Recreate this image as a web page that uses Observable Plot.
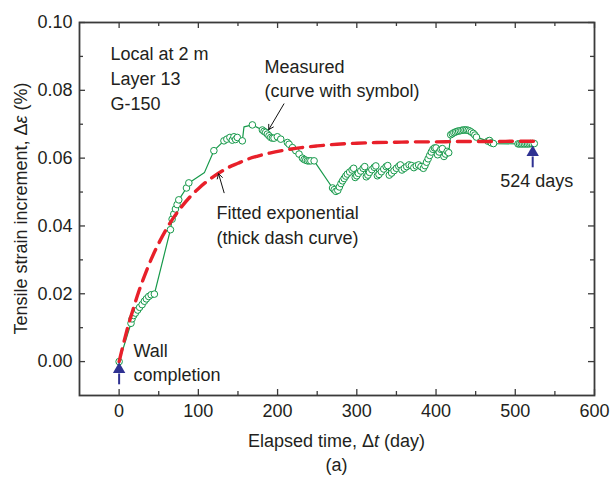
<!DOCTYPE html>
<html>
<head>
<meta charset="utf-8">
<script src="https://cdn.jsdelivr.net/npm/d3@7"></script>
<script src="https://cdn.jsdelivr.net/npm/@observablehq/plot@0.6"></script>
<style>
  html, body { margin: 0; padding: 0; background: #fff; }
</style>
</head>
<body>
<div id="chart"></div>
<script>
// ---- Data ----
// Measured strain increment (curve with symbol): elapsed day, strain (%)
const measT = [0, 15, 16.3, 18.3, 20.5, 23.4, 25.9, 29, 31.9, 34.4, 37.3, 40.4, 44.5,
  64.8, 66.9, 69, 71.1, 73.2, 75.3, 85, 88,
  119.6, 132.3, 136, 139.8, 142.8, 144.9, 147, 149.2, 155.5,
  168.2, 180.8, 182.9, 185, 187.1, 189.2, 191.3, 193.4, 195.5, 199.7, 204,
  212.4, 214.5, 218.8, 223, 227.1, 231.4, 233.5, 235.6, 237.7, 239.8, 242, 246.1,
  269.4, 271.5, 273.6,
  276, 278, 280, 282, 284, 286, 288, 291, 294, 296,
  298, 300, 302, 305, 308, 310,
  312, 314, 316, 319, 322, 324,
  326, 328, 331, 334, 337, 339,
  341, 344, 347, 350, 353, 355,
  357, 360, 363, 366, 369, 372, 375, 378, 381, 384,
  386, 388, 390, 392, 394, 396, 398, 400,
  402, 404, 406, 408, 410, 412, 414, 416,
  418.5, 420.5, 422.5, 424.5, 426.5, 428.5, 430.5, 432.5, 434.5, 436.5, 438.5, 440.5, 442.5, 444.5, 447, 449, 451,
  465.5, 467.5, 469.7, 472.5,
  503.5, 505.5, 507.5, 509.5, 511.5, 513.5, 515.5, 517.5, 519.5, 521.5, 524];
const measV = [0, 0.0113, 0.0126, 0.0136, 0.0143, 0.0152, 0.0160, 0.0168, 0.0178, 0.0185, 0.0192, 0.0197, 0.0199,
  0.0389, 0.0420, 0.0435, 0.0450, 0.0463, 0.0477, 0.0512, 0.0527,
  0.0622, 0.0651, 0.0656, 0.0661, 0.0653, 0.0663, 0.0655, 0.0661, 0.0651,
  0.0698, 0.0683, 0.0679, 0.0676, 0.0671, 0.0666, 0.0661, 0.0659, 0.0659, 0.0663, 0.0656,
  0.0646, 0.0641, 0.0631, 0.0622, 0.0612, 0.0600, 0.0596, 0.0594, 0.0592, 0.0592, 0.0592, 0.0592,
  0.0512, 0.0507, 0.0502,
  0.0505, 0.0515, 0.0525, 0.0533, 0.0540, 0.0547, 0.0553, 0.0559, 0.0565, 0.0570,
  0.0543, 0.0548, 0.0555, 0.0562, 0.0570, 0.0575,
  0.0545, 0.0550, 0.0558, 0.0566, 0.0573, 0.0577,
  0.0548, 0.0552, 0.0560, 0.0568, 0.0575, 0.0578,
  0.0550, 0.0556, 0.0563, 0.0570, 0.0576, 0.0580,
  0.0565, 0.0570, 0.0575, 0.0580, 0.0578, 0.0572, 0.0577, 0.0580, 0.0575, 0.0570,
  0.0578, 0.0588, 0.0598, 0.0608, 0.0618, 0.0626, 0.0630, 0.0630,
  0.0610, 0.0618, 0.0626, 0.0628, 0.0605, 0.0612, 0.0620, 0.0616,
  0.0669, 0.0672, 0.0675, 0.0677, 0.0679, 0.0680, 0.0681, 0.0682, 0.0683, 0.0683, 0.0683, 0.0682, 0.0680, 0.0677, 0.0673, 0.0668, 0.0662,
  0.0650, 0.0652, 0.0645, 0.0643,
  0.0642, 0.0642, 0.0642, 0.0642, 0.0642, 0.0642, 0.0642, 0.0642, 0.0643, 0.0643, 0.0643];
// Line vertices of the measured curve that carry no symbol
const kinkT = [107.8, 157.6];
const kinkV = [0.0558, 0.0692];

// Fitted exponential (thick dash curve)
const fitT = [0, 5, 10, 15, 20, 25, 30, 40, 50, 60, 70, 80, 90, 100, 110, 120, 130, 140, 150, 160,
  175, 190, 210, 230, 250, 275, 300, 325, 350, 375, 400, 425, 450, 475, 500, 524];
const fitV = [0, 0.0048, 0.0093, 0.0134, 0.0172, 0.0208, 0.0240, 0.0299, 0.0349, 0.0392, 0.0429, 0.0460,
  0.0487, 0.0510, 0.0530, 0.0547, 0.0562, 0.0575, 0.0585, 0.0595, 0.0606, 0.0615, 0.0624, 0.0631,
  0.0636, 0.0641, 0.0644, 0.0646, 0.0647, 0.0648, 0.0648, 0.0649, 0.0649, 0.0649, 0.0650, 0.0650];

// Axis ticks
const xTicks = [0, 100, 200, 300, 400, 500, 600];
const xMinor = [50, 150, 250, 350, 450, 550];
const yTicks = [0, 0.02, 0.04, 0.06, 0.08, 0.10];
const yMinor = [0.01, 0.03, 0.05, 0.07, 0.09];

// Text annotations
const noteText = ["Local at 2 m", "Layer 13", "G-150", "Measured", "(curve with symbol)",
  "Fitted exponential", "(thick dash curve)", "524 days", "Wall", "completion"];
const noteX = [-11, -11, -11, 183.5, 183.5, 123, 123, 481, 18, 18];
const noteY = [0.0907, 0.0833, 0.0759, 0.0867, 0.0796, 0.0437, 0.0364, 0.0533, 0.0031, -0.0041];

// Black pointer arrows (to measured / fitted curves)
const ptrX1 = [208, 132.5], ptrY1 = [0.0760, 0.0498];
const ptrX2 = [188.8, 125.5], ptrY2 = [0.0684, 0.0554];

// Blue event arrows (wall completion, 524 days)
const evX = [0, 522];
const evY1 = [-0.0067, 0.0573];
const evY2 = [-0.0008, 0.0632];

// ---- Build tables ----
const measured = measT.map((t, i) => ({t, v: measV[i]}));
const lineData = measured.concat(kinkT.map((t, i) => ({t, v: kinkV[i]}))).sort((a, b) => a.t - b.t);
const fitted = fitT.map((t, i) => ({t, v: fitV[i]}));
const notes = noteText.map((s, i) => ({s, x: noteX[i], y: noteY[i]}));
const ptrs = ptrX1.map((x1, i) => ({x1, y1: ptrY1[i], x2: ptrX2[i], y2: ptrY2[i]}));
const evs = evX.map((x, i) => ({x, y1: evY1[i], y2: evY2[i]}));

const green = "#16994a", red = "#e8202a", blue = "#2e3192", ink = "#231f20", frameC = "#3b3b3b";
const W = 610, H = 477, mL = 79, mR = 16, mT = 22, mB = 82;
const iW = W - mL - mR, iH = H - mT - mB;
const headLen = 0.0027; // arrowhead height in data units

const svg = Plot.plot({
  width: W, height: H,
  marginLeft: mL, marginRight: mR, marginTop: mT, marginBottom: mB,
  x: {domain: [-50, 600]},
  y: {domain: [-0.01, 0.10]},
  style: {fontFamily: "'Liberation Sans', Arial, sans-serif", fontSize: "18px", color: ink, background: "white"},
  marks: [
    // ticks pointing inward on all four sides
    Plot.tickX(xTicks, {x: d => d, insetTop: iH - 6, stroke: frameC, strokeWidth: 1.3}),
    Plot.tickX(xTicks, {x: d => d, insetBottom: iH - 6, stroke: frameC, strokeWidth: 1.3}),
    Plot.tickX(xMinor, {x: d => d, insetTop: iH - 4, stroke: frameC, strokeWidth: 1.3}),
    Plot.tickX(xMinor, {x: d => d, insetBottom: iH - 4, stroke: frameC, strokeWidth: 1.3}),
    Plot.tickY(yTicks, {y: d => d, insetRight: iW - 6, stroke: frameC, strokeWidth: 1.3}),
    Plot.tickY(yTicks, {y: d => d, insetLeft: iW - 6, stroke: frameC, strokeWidth: 1.3}),
    Plot.tickY(yMinor, {y: d => d, insetRight: iW - 4, stroke: frameC, strokeWidth: 1.3}),
    Plot.tickY(yMinor, {y: d => d, insetLeft: iW - 4, stroke: frameC, strokeWidth: 1.3}),
    Plot.axisX(xTicks, {tickSize: 0, tickPadding: 9, label: null, tickFormat: d => String(d), fill: ink}),
    Plot.axisY(yTicks, {tickSize: 0, tickPadding: 7, label: null, tickFormat: d3.format(".2f"), fill: ink}),
    Plot.frame({stroke: frameC, strokeWidth: 1.8}),
    // measured curve with symbols
    Plot.line(lineData, {x: "t", y: "v", stroke: green, strokeWidth: 1.2}),
    Plot.dot(measured, {x: "t", y: "v", r: 3.3, stroke: green, strokeWidth: 1, fill: "white"}),
    // fitted exponential
    Plot.line(fitted, {x: "t", y: "v", stroke: red, strokeWidth: 3.4, strokeDasharray: "13,8", curve: "monotone-x"}),
    // annotations
    Plot.text(notes, {x: "x", y: "y", text: "s", textAnchor: "start", fill: ink, fontSize: 18}),
    Plot.arrow(ptrs, {x1: "x1", y1: "y1", x2: "x2", y2: "y2", stroke: "#111", strokeWidth: 1, headLength: 8}),
    Plot.link(evs, {x1: "x", x2: "x", y1: "y1", y2: d => d.y2 - headLen, stroke: blue, strokeWidth: 2}),
    Plot.dot(evs, {x: "x", y: d => d.y2 - headLen * 0.55, symbol: "triangle", r: 4.6, fill: blue, stroke: "none"})
  ]
});

const root = d3.select(svg);
const cx = mL + iW / 2;
const xl = root.append("text")
  .attr("x", cx).attr("y", 441)
  .attr("text-anchor", "middle").attr("dominant-baseline", "central")
  .attr("font-size", 18).attr("fill", ink);
xl.append("tspan").text("Elapsed time, Δ");
xl.append("tspan").attr("font-style", "italic").text("t");
xl.append("tspan").text(" (day)");

root.append("text")
  .attr("x", cx).attr("y", 465)
  .attr("text-anchor", "middle").attr("dominant-baseline", "central")
  .attr("font-size", 18).attr("fill", ink)
  .text("(a)");

const yl = root.append("text")
  .attr("transform", `translate(21,${mT + iH / 2}) rotate(-90)`)
  .attr("text-anchor", "middle").attr("dominant-baseline", "central")
  .attr("font-size", 18).attr("fill", ink);
yl.append("tspan").text("Tensile strain increment, Δ");
yl.append("tspan").attr("font-style", "italic").text("ε");
yl.append("tspan").text(" (%)");

document.getElementById("chart").appendChild(svg);
</script>
</body>
</html>
